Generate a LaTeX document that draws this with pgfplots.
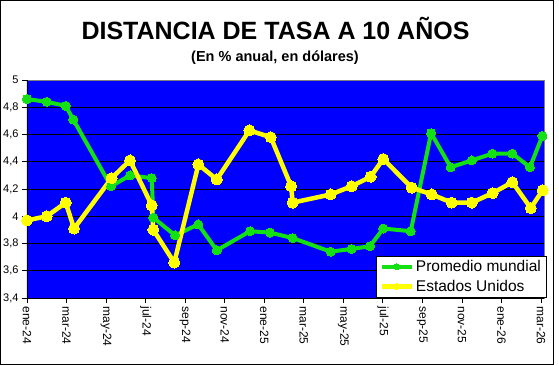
\documentclass[border=0pt]{standalone}
\usepackage{fontspec}
\setmainfont{Liberation Sans}
\usepackage{pgfplots}
\pgfplotsset{compat=1.18}
\definecolor{gverde}{RGB}{20,225,20}
\definecolor{gamar}{RGB}{255,255,0}
\definecolor{bgblue}{RGB}{0,0,255}
\definecolor{bglight}{RGB}{190,190,250}
\begin{document}
\begin{tikzpicture}[x=1pt,y=1pt]
\path[use as bounding box] (0,0) rectangle (559,365);
\draw[black,line width=1pt] (0.5,0.5) rectangle (553.5,364.5);
\node[anchor=base,font=\bfseries\fontsize{25}{30}\selectfont] at (275.5,325) {DISTANCIA DE TASA A 10 AÑOS};
\node[anchor=base,font=\bfseries\fontsize{14.5}{17}\selectfont] at (275,304) {(En \% anual, en dólares)};
\begin{axis}[
  at={(27pt,67pt)}, anchor=south west, scale only axis,
  width=517pt, height=218pt,
  xmin=0, xmax=26.15, ymin=3.4, ymax=5,
  clip=false,
  axis background/.style={top color=bgblue, middle color=bglight, bottom color=bgblue},
  axis line style={draw=gray, line width=0.8pt},
  ymajorgrids, major grid style={black, line width=0.8pt},
  ytick={3.4,3.6,3.8,4,4.2,4.4,4.6,4.8,5},
  xtick={0,2,4,6,8,10,12,14,16,18,20,22,24,26},
  xticklabels={ene-24,mar-24,may-24,jul-24,sep-24,nov-24,ene-25,mar-25,may-25,jul-25,sep-25,nov-25,ene-26,mar-26},
  xtick pos=bottom, ytick pos=left,
  tick align=outside, major tick length=5pt,
  tick style={black, line width=0.8pt},
  xticklabel style={rotate=-90, anchor=west, font=\fontsize{12}{14}\selectfont},
  yticklabel style={font=\fontsize{11}{13}\selectfont, /pgf/number format/use comma, /pgf/number format/fixed, /pgf/number format/precision=1, /pgf/number format/assume math mode=true},
  legend style={at={(1.004,0.005)}, anchor=south east, draw=black, fill=white,
    font=\fontsize{15.5}{18}\selectfont, row sep=3pt, inner xsep=3pt, inner ysep=2pt},
  legend cell align=left,
  legend image code/.code={\draw[mark repeat=2,mark phase=2,mark size=3pt] plot coordinates {(0pt,0pt) (15pt,0pt) (30pt,0pt)};},
]
\addplot[color=gverde, line width=4pt, line join=round, mark=*, mark size=4.5pt, mark options={fill=gverde, draw=gverde, line width=0pt}] table {
x y
0 4.86
1.0 4.84
1.96 4.81
2.34 4.71
4.25 4.22
5.21 4.30
6.31 4.28
6.39 3.99
7.49 3.86
8.66 3.94
9.6 3.75
11.28 3.89
12.29 3.88
13.44 3.84
15.36 3.74
16.42 3.76
17.35 3.78
18.02 3.91
19.41 3.89
20.44 4.61
21.43 4.36
22.5 4.41
23.54 4.46
24.55 4.46
25.44 4.36
26.07 4.59
};
\addlegendentry{Promedio mundial}
\addplot[color=gamar, line width=4.5pt, line join=round, mark=*, mark size=5.5pt, mark options={fill=gamar, draw=gamar, line width=0pt}] table {
x y
0 3.97
1.0 4.00
1.96 4.10
2.38 3.91
4.28 4.28
5.21 4.41
6.31 4.08
6.39 3.90
7.45 3.66
8.67 4.38
9.6 4.27
11.25 4.63
12.33 4.58
13.36 4.22
13.44 4.10
15.36 4.16
16.42 4.22
17.38 4.29
18.02 4.42
19.46 4.21
20.47 4.16
21.48 4.10
22.5 4.10
23.55 4.17
24.55 4.25
25.48 4.06
26.08 4.19
};
\addlegendentry{Estados Unidos}
\draw[black, line width=0.8pt] (rel axis cs:0,0) -- (rel axis cs:0,1);
\draw[black, line width=0.8pt] (rel axis cs:0,0) -- (rel axis cs:1,0);
\end{axis}
\end{tikzpicture}
\end{document}
